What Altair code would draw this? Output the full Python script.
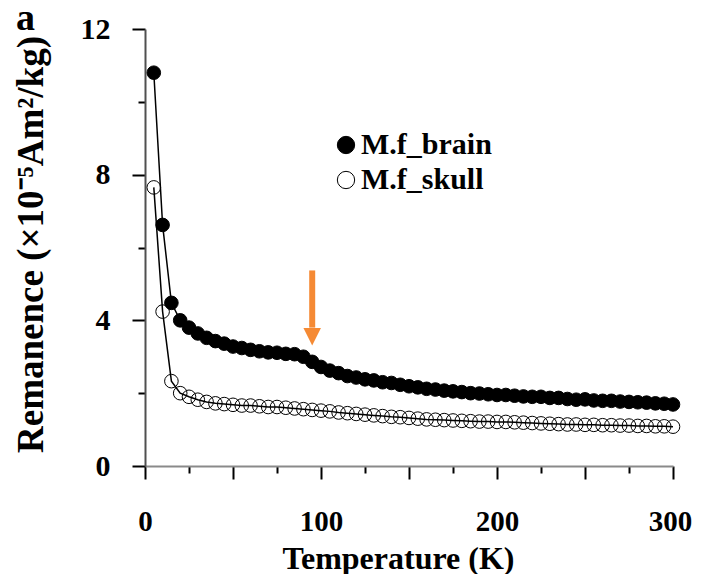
import altair as alt
import pandas as pd

# ---- data ----
temperature = [5, 10, 15, 20, 25, 30, 35, 40, 45, 50,
               55, 60, 65, 70, 75, 80, 85, 90, 95, 100,
               105, 110, 115, 120, 125, 130, 135, 140, 145, 150,
               155, 160, 165, 170, 175, 180, 185, 190, 195, 200,
               205, 210, 215, 220, 225, 230, 235, 240, 245, 250,
               255, 260, 265, 270, 275, 280, 285, 290, 295, 300]

brain = [10.8, 6.62, 4.48, 4.0, 3.8, 3.64, 3.52, 3.43, 3.36, 3.28,
         3.24, 3.19, 3.15, 3.12, 3.11, 3.08, 3.07, 3.0, 2.86, 2.72,
         2.62, 2.55, 2.47, 2.43, 2.38, 2.35, 2.3, 2.28, 2.23, 2.19,
         2.16, 2.12, 2.1, 2.07, 2.05, 2.03, 2.0, 1.99, 1.97, 1.95,
         1.95, 1.93, 1.91, 1.9, 1.9, 1.87, 1.87, 1.84, 1.82, 1.83,
         1.8, 1.79, 1.79, 1.77, 1.76, 1.75, 1.74, 1.72, 1.71, 1.69]

skull = [7.65, 4.24, 2.33, 2.0, 1.9, 1.82, 1.76, 1.72, 1.7, 1.68,
         1.66, 1.66, 1.64, 1.62, 1.62, 1.6, 1.58, 1.56, 1.54, 1.52,
         1.5, 1.47, 1.45, 1.43, 1.41, 1.39, 1.37, 1.35, 1.34, 1.32,
         1.3, 1.28, 1.27, 1.26, 1.25, 1.24, 1.23, 1.22, 1.22, 1.21,
         1.21, 1.2, 1.19, 1.18, 1.17, 1.16, 1.15, 1.14, 1.14, 1.13,
         1.13, 1.12, 1.12, 1.11, 1.11, 1.1, 1.1, 1.09, 1.09, 1.08]

series_names = ["M.f_brain", "M.f_skull"]

x_major_ticks = [0, 50, 100, 150, 200, 250, 300]
x_minor_ticks = [25, 75, 125, 175, 225, 275]
y_major_ticks = [0, 4, 8, 12]
y_minor_ticks = [2, 6, 10]

# orange arrow annotation (data coordinates)
arrow_x = [95]
arrow_top = [5.37]
arrow_base = [3.80]
arrow_head = [3.55]

panel_label = ["a"]

# ---- tables ----
df = pd.DataFrame({
    "T": temperature + temperature,
    "R": brain + skull,
    "series": [series_names[0]] * len(brain) + [series_names[1]] * len(skull),
})
arrow_df = pd.DataFrame({"x": arrow_x, "top": arrow_top, "base": arrow_base, "head": arrow_head})
label_df = pd.DataFrame({"t": panel_label})

FONT = "Liberation Serif"
ORANGE = "#F58A34"

xscale = alt.Scale(domain=[0, 300], nice=False, zero=False)
yscale = alt.Scale(domain=[0, 12], nice=False, zero=False)

# minor ticks carried by the line layer
line = alt.Chart(df).mark_line(color="black", strokeWidth=1.5).encode(
    x=alt.X("T:Q", scale=xscale, axis=alt.Axis(
        orient="bottom", values=x_minor_ticks, tickSize=7, tickWidth=2, tickColor="black",
        labels=False, domain=False, grid=False, title=None)),
    y=alt.Y("R:Q", scale=yscale, axis=alt.Axis(
        orient="left", values=y_minor_ticks, tickSize=7, tickWidth=2, tickColor="black",
        labels=False, domain=False, grid=False, title=None)),
    detail="series:N",
    order="T:Q",
)

points = alt.Chart(df).mark_point(filled=True, stroke="black", strokeWidth=1, opacity=1, size=185).encode(
    x=alt.X("T:Q", scale=xscale, axis=alt.Axis(
        orient="bottom", values=x_major_ticks, tickSize=13, tickWidth=2, tickColor="black",
        domainColor="#8a8a8a", domainWidth=2, grid=False,
        labelExpr="datum.value % 100 === 0 ? datum.label : ''",
        labelFont=FONT, labelFontWeight="bold", labelFontSize=29, labelColor="black",
        labelPadding=28, labelFlush=False,
        labelOffset={"condition": {"test": "datum.value === 300", "value": -3}, "value": 0},
        title="Temperature (K)", titleFont=FONT, titleFontWeight="bold", titleFontSize=32,
        titleColor="black", titleX=253, titleY=102, titleBaseline="alphabetic", titleAlign="center")),
    y=alt.Y("R:Q", scale=yscale, axis=alt.Axis(
        orient="left", values=y_major_ticks, tickSize=13, tickWidth=2, tickColor="black",
        domainColor="#505050", domainWidth=2, grid=False,
        labelFont=FONT, labelFontWeight="bold", labelFontSize=30, labelColor="black",
        labelPadding=22, labelFlush=False,
        title="Remanence (×10⁻⁵Am²/kg)", titleFont=FONT, titleFontWeight="bold",
        titleFontSize=37, titleColor="black", titleAngle=270, titleX=-114, titleY=215,
        titleBaseline="middle", titleAlign="center")),
    fill=alt.Fill("series:N", scale=alt.Scale(domain=series_names, range=["black", "transparent"]),
                  legend=alt.Legend(
                      title=None, orient="none", legendX=186, legendY=101, padding=0,
                      labelFont=FONT, labelFontWeight="bold", labelFontSize=30, labelColor="black",
                      symbolType="circle", symbolSize=300, symbolStrokeColor="black",
                      symbolStrokeWidth=1, symbolOpacity=1, rowPadding=5, labelOffset=0)),
)

arrow_shaft = alt.Chart(arrow_df).mark_rule(color=ORANGE, strokeWidth=6).encode(
    x=alt.X("x:Q", scale=xscale, axis=None),
    y=alt.Y("top:Q", scale=yscale, axis=None),
    y2="base:Q",
)
arrow_tip = alt.Chart(arrow_df).mark_point(
    shape="M-1,-1L1,-1L0,1Z", filled=True, color=ORANGE, opacity=1, size=306
).encode(
    x=alt.X("x:Q", scale=xscale, axis=None),
    y=alt.Y("head:Q", scale=yscale, axis=None),
)

panel = alt.Chart(label_df).mark_text(
    font=FONT, fontWeight="bold", fontSize=38, align="left", baseline="alphabetic", color="black"
).encode(text="t:N", x=alt.value(-129), y=alt.value(1))

chart = alt.layer(line, points, arrow_shaft, arrow_tip, panel).resolve_axis(
    x="independent", y="independent"
).properties(
    width=528, height=437,
    autosize=alt.AutoSizeParams(type="none"),
    padding={"left": 137, "top": 21, "right": 21, "bottom": 108},
).configure_view(stroke=None)

chart.save("out.html", embed_options={"renderer": "svg", "actions": False})
